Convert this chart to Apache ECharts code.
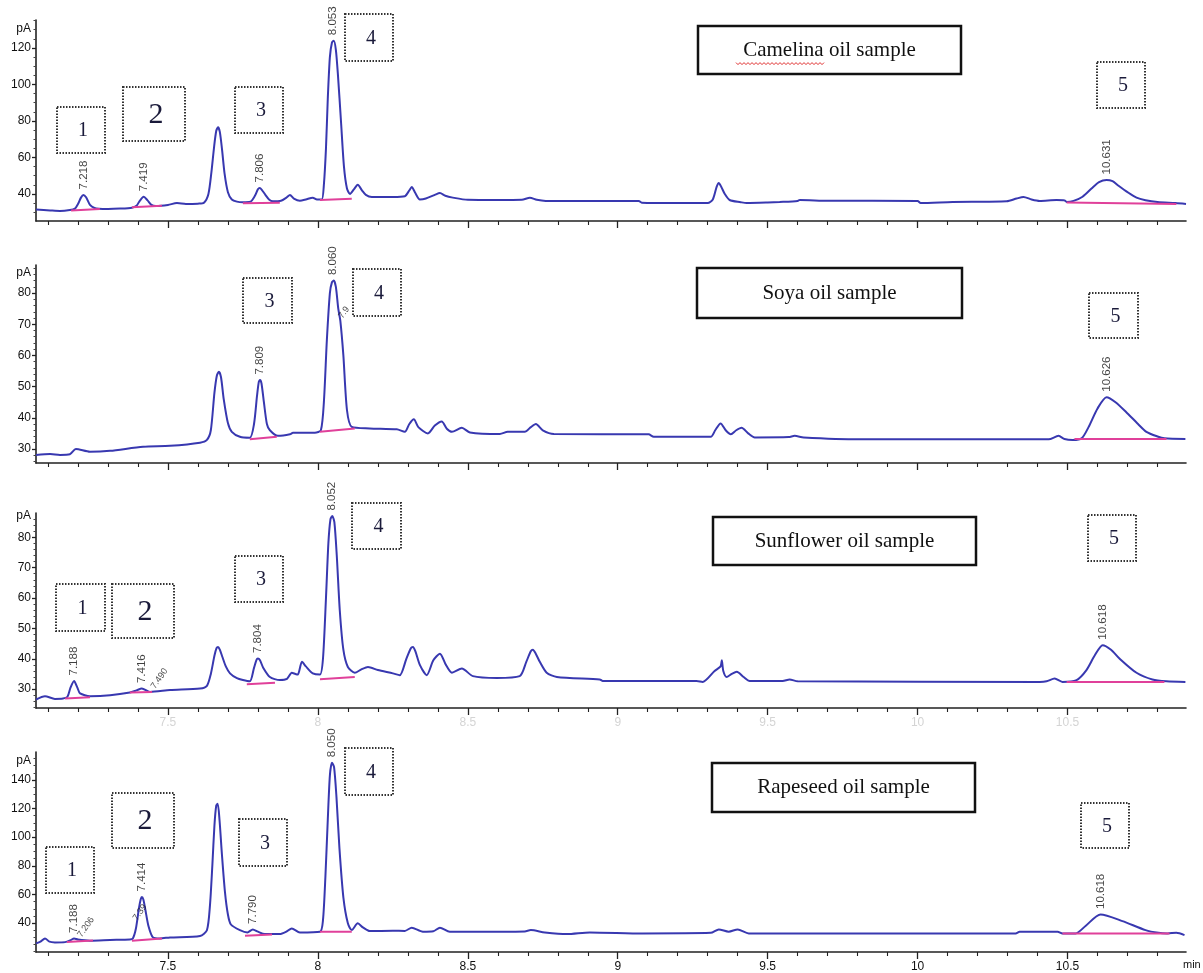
<!DOCTYPE html>
<html><head><meta charset="utf-8">
<script src="https://cdn.jsdelivr.net/npm/echarts@6/dist/echarts.min.js"></script>
<style>html,body{margin:0;padding:0;background:#fff}#c{width:1203px;height:973px}</style>
</head><body><div id="c"></div>
<script>
// ---------------- DATA ----------------
const sampleNames = ['Camelina oil sample', 'Soya oil sample', 'Sunflower oil sample', 'Rapeseed oil sample'];

const camelinaTrace = [[7.06,31.5],[7.107,31.0],[7.14,30.7],[7.173,31.2],[7.19,32.0],[7.2,34.5],[7.21,38.0],[7.218,39.5],[7.227,38.2],[7.24,34],[7.255,32.3],[7.27,31.9],[7.3,31.8],[7.34,32.0],[7.38,32.5],[7.395,33.5],[7.405,36],[7.419,38.5],[7.432,36.5],[7.445,34],[7.46,33.4],[7.5,34],[7.53,35],[7.56,34.5],[7.6,34.7],[7.62,35.2],[7.635,40],[7.645,52],[7.654,66],[7.661,74.5],[7.667,76.5],[7.673,74],[7.68,65],[7.689,51],[7.7,41],[7.713,37],[7.73,35.8],[7.75,35.5],[7.775,35.8],[7.79,39],[7.8,42.6],[7.806,43.3],[7.813,42.3],[7.825,39.5],[7.838,36.8],[7.85,36],[7.877,36.3],[7.895,38],[7.907,39.5],[7.92,37.5],[7.94,36.3],[7.96,37],[7.983,38],[7.997,37],[8.013,37],[8.02,45],[8.027,65],[8.033,92],[8.04,115],[8.047,123],[8.053,124],[8.06,119],[8.067,105],[8.077,80],[8.087,55],[8.097,43],[8.107,40],[8.12,42.5],[8.133,45],[8.147,42],[8.16,39.5],[8.18,38.4],[8.25,38.4],[8.29,38.8],[8.305,42],[8.313,43.8],[8.325,40.5],[8.34,37],[8.36,37.5],[8.39,39.5],[8.407,40.5],[8.425,39],[8.45,38],[8.5,36.8],[8.6,36.7],[8.68,36.8],[8.707,38],[8.73,36.8],[8.76,36.2],[9.07,36.2],[9.08,35.2],[9.2,35],[9.3,35],[9.317,37],[9.33,44],[9.337,46],[9.345,44],[9.357,40],[9.373,36.7],[9.41,35.5],[9.43,35],[9.5,35.3],[9.54,35.6],[9.6,36.2],[9.607,36.7],[9.7,36.3],[10.0,36.2],[10.01,35],[10.117,35.6],[10.297,36],[10.33,37.5],[10.353,38.4],[10.38,37],[10.407,36.2],[10.463,36.7],[10.49,36.5],[10.497,35.6],[10.52,36.2],[10.55,38.5],[10.58,43],[10.605,46.5],[10.63,47.7],[10.65,47],[10.67,44.5],[10.7,41],[10.73,38],[10.76,36.6],[10.8,35.6],[10.86,35],[10.895,34.5]];
const soyaTrace = [[7.06,28.1],[7.107,28.4],[7.14,28.1],[7.173,28.3],[7.193,30],[7.24,29.1],[7.307,29.4],[7.417,30.7],[7.507,31],[7.607,32],[7.63,32.9],[7.643,36],[7.655,48],[7.663,53.5],[7.67,54.8],[7.677,53],[7.686,46],[7.7,38.3],[7.713,35.5],[7.74,33.9],[7.773,33.6],[7.787,38],[7.797,47],[7.803,51.5],[7.807,52.1],[7.812,51],[7.82,45],[7.83,38],[7.84,36],[7.867,34.2],[7.907,34.7],[7.917,35.2],[7.99,35.2],[8.01,36],[8.02,45],[8.03,65],[8.04,80],[8.047,83.5],[8.053,84],[8.06,82],[8.068,75],[8.075,71],[8.085,60],[8.097,42.5],[8.113,37.1],[8.173,36.6],[8.263,36.3],[8.29,35.5],[8.305,38],[8.32,39.5],[8.335,37],[8.367,35],[8.39,37.5],[8.413,38.8],[8.43,36.5],[8.447,35.5],[8.48,36.8],[8.507,35.3],[8.607,34.8],[8.633,35.5],[8.69,35.5],[8.71,37],[8.727,38],[8.75,36],[8.787,34.8],[9.103,34.7],[9.12,33.9],[9.31,33.9],[9.325,36],[9.343,38.2],[9.36,36],[9.377,34.7],[9.395,36],[9.413,36.8],[9.435,35],[9.457,33.7],[9.57,33.8],[9.59,34.2],[9.62,33.7],[9.807,33.1],[10.437,33.1],[10.47,34.2],[10.49,33.2],[10.517,32.9],[10.547,33.4],[10.57,37],[10.6,43],[10.63,46.6],[10.66,45],[10.7,41.4],[10.735,38],[10.763,35.5],[10.8,34],[10.823,33.4],[10.893,33.2]];
const sunflowerTrace = [[7.06,26.6],[7.09,27.7],[7.123,26.8],[7.15,26.9],[7.165,27.5],[7.175,30.5],[7.187,32.7],[7.198,30.5],[7.207,28.6],[7.24,27.7],[7.307,28],[7.373,28.9],[7.395,29.6],[7.413,30.2],[7.44,29.1],[7.507,29.7],[7.607,30.2],[7.63,31.1],[7.643,35],[7.655,41],[7.662,43.5],[7.667,43.9],[7.673,43],[7.682,40.5],[7.693,37.5],[7.707,35.2],[7.73,33.6],[7.75,33],[7.773,32.6],[7.787,37],[7.795,39.6],[7.8,40.1],[7.807,39.5],[7.818,37],[7.84,34],[7.873,33],[7.897,33.4],[7.913,35.4],[7.925,35],[7.933,34.8],[7.947,39],[7.96,37.5],[7.983,35.2],[8.007,34.8],[8.017,40],[8.027,60],[8.035,78],[8.042,86],[8.048,87],[8.055,85],[8.063,74],[8.073,56],[8.085,43],[8.1,37.3],[8.123,35.4],[8.145,36.5],[8.167,37.3],[8.2,36.3],[8.25,35.2],[8.273,34.6],[8.295,40],[8.31,43.5],[8.317,43.9],[8.325,42.5],[8.34,38],[8.363,34.6],[8.385,39.5],[8.407,41.7],[8.427,38],[8.447,35.4],[8.48,36.8],[8.517,34.3],[8.597,33.7],[8.673,34.3],[8.695,39],[8.71,42.5],[8.717,43],[8.725,42],[8.74,39],[8.763,35.4],[8.797,34],[8.94,33.2],[8.95,32.7],[9.263,32.7],[9.283,32.4],[9.323,36],[9.343,37.5],[9.347,39.5],[9.352,36],[9.363,34],[9.38,35],[9.397,35.7],[9.42,34],[9.44,32.7],[9.55,32.7],[9.573,33.2],[9.6,32.6],[10.407,32.4],[10.43,32.6],[10.457,33.5],[10.483,32.4],[10.53,33],[10.563,36.3],[10.59,41],[10.617,44.5],[10.645,43],[10.673,40.1],[10.73,35.4],[10.783,33.2],[10.83,32.6],[10.893,32.4]];
const rapeseedTrace = [[7.06,25.8],[7.075,27],[7.09,29.3],[7.105,27],[7.123,26.5],[7.157,26.7],[7.175,28],[7.187,29.3],[7.2,28.5],[7.24,27.7],[7.307,28.2],[7.373,28.6],[7.383,29.3],[7.393,36],[7.403,50],[7.409,56.5],[7.413,58.3],[7.418,56.5],[7.425,49],[7.435,38],[7.45,30],[7.473,29.3],[7.507,30],[7.607,31],[7.63,35],[7.64,52],[7.648,80],[7.655,108],[7.661,122],[7.666,123.4],[7.672,112],[7.68,88],[7.69,62],[7.7,46],[7.71,39],[7.74,35.1],[7.765,33.5],[7.783,35.6],[7.8,34],[7.823,32.3],[7.873,32.3],[7.895,34],[7.913,36.3],[7.94,33.5],[8.007,34],[8.017,42],[8.025,72],[8.033,112],[8.04,143],[8.047,152],[8.054,149],[8.062,128],[8.072,92],[8.085,58],[8.1,39.8],[8.113,35.1],[8.133,39.8],[8.15,37],[8.173,34.4],[8.25,34.7],[8.29,34.5],[8.313,36.8],[8.35,34],[8.385,34.3],[8.407,36.8],[8.44,34],[8.607,34],[8.69,34.2],[8.71,35.1],[8.757,33.5],[8.83,32.3],[8.907,33.5],[9.083,32.8],[9.31,33.2],[9.337,35.6],[9.37,34],[9.4,35.6],[9.437,32.8],[10.327,32.8],[10.34,34],[10.467,34],[10.483,32.8],[10.527,32.8],[10.56,38],[10.61,46],[10.683,41.4],[10.76,35.1],[10.803,33.2],[10.833,32.8],[10.863,33.2],[10.89,31.6]];

// integration baselines (pink)
const camelinaBaselines = [[[7.177,31.0],[7.273,31.8]],[[7.38,32.7],[7.48,33.6]],[[7.75,34.9],[7.873,35.2]],[[8.007,36.7],[8.113,37.4]],[[10.497,35.4],[10.863,34.5]]];
const soyaBaselines = [[[7.773,33.1],[7.863,33.9]],[[8.007,35.5],[8.123,36.6]],[[10.523,33.2],[10.83,33.2]]];
const sunflowerBaselines = [[[7.157,26.9],[7.24,27.3]],[[7.373,28.9],[7.447,29.1]],[[7.763,31.6],[7.857,32.1]],[[8.007,33.3],[8.123,34.0]],[[10.497,32.4],[10.823,32.4]]];
const rapeseedBaselines = [[[7.163,26.8],[7.25,27.8]],[[7.38,27.7],[7.48,29.3]],[[7.757,31.2],[7.847,32.0]],[[8.007,34],[8.113,34]],[[10.483,32.8],[10.84,32.8]]];

// retention-time labels [time, apex value, text]
const camelinaPeakLabels = [[7.218,39.5,'7.218'],[7.419,38.5,'7.419'],[7.806,43.3,'7.806'],[8.05,124,'8.053'],[10.63,47.7,'10.631']];
const soyaPeakLabels = [[7.807,52.1,'7.809'],[8.05,84,'8.060'],[10.63,46.6,'10.626']];
const sunflowerPeakLabels = [[7.187,32.7,'7.188'],[7.413,30.2,'7.416'],[7.8,40.1,'7.804'],[8.047,87,'8.052'],[10.617,44.5,'10.618']];
const rapeseedPeakLabels = [[7.187,29.3,'7.188'],[7.413,58.3,'7.414'],[7.783,35.6,'7.790'],[8.047,152,'8.050'],[10.61,46,'10.618']];
const soyaSlantLabels = [[8.075,71,'7.9']];
const sunflowerSlantLabels = [[7.45,29.3,'7.490']];
const rapeseedSlantLabels = [[7.205,28.3,'7.206'],[7.39,40,'7.39']];

// axes
const xRange = [7.06, 10.895];
const xMajorTicks = [7.5, 8, 8.5, 9, 9.5, 10, 10.5];
const xMinorTicks = [7.1,7.2,7.3,7.4,7.6,7.7,7.8,7.9,8.1,8.2,8.3,8.4,8.6,8.7,8.8,8.9,9.1,9.2,9.3,9.4,9.6,9.7,9.8,9.9,10.1,10.2,10.3,10.4,10.6,10.7,10.8];
const camelinaYTicks = [40, 60, 80, 100, 120];
const soyaYTicks = [30, 40, 50, 60, 70, 80];
const sunflowerYTicks = [30, 40, 50, 60, 70, 80];
const rapeseedYTicks = [40, 60, 80, 100, 120, 140];
const camelinaYMinor = [30,35,45,50,55,65,70,75,85,90,95,105,110,115,125,130,135];
const soyaYMinor = [26,28,32,34,36,38,42,44,46,48,52,54,56,58,62,64,66,68,72,74,76,78,82,84,86,88];
const sunflowerYMinor = [24,26,28,32,34,36,38,42,44,46,48,52,54,56,58,62,64,66,68,72,74,76,78,82,84,86];
const rapeseedYMinor = [20,25,30,35,45,50,55,65,70,75,85,90,95,105,110,115,125,130,135,145,150,155];

// ---------------- LAYOUT ----------------
const panels = [
  {trace: camelinaTrace, base: camelinaBaselines, labels: camelinaPeakLabels, slant: [], yTicks: camelinaYTicks, yMinor: camelinaYMinor},
  {trace: soyaTrace, base: soyaBaselines, labels: soyaPeakLabels, slant: soyaSlantLabels, yTicks: soyaYTicks, yMinor: soyaYMinor},
  {trace: sunflowerTrace, base: sunflowerBaselines, labels: sunflowerPeakLabels, slant: sunflowerSlantLabels, yTicks: sunflowerYTicks, yMinor: sunflowerYMinor},
  {trace: rapeseedTrace, base: rapeseedBaselines, labels: rapeseedPeakLabels, slant: rapeseedSlantLabels, yTicks: rapeseedYTicks, yMinor: rapeseedYMinor}
];
const layout = [
  {top: 20, height: 201, yMin: 25.2, yMax: 135.3, pA: 130.4, xLabel: null},
  {top: 265, height: 198, yMin: 25.5, yMax: 89, pA: 86.4, xLabel: null},
  {top: 513, height: 195, yMin: 23.8, yMax: 88, pA: 87.2, xLabel: '#d4d4d4'},
  {top: 752, height: 200, yMin: 19.8, yMax: 159.5, pA: 153.6, xLabel: '#111'}
];
const titleBoxes = [
  {x: 698, y: 26, w: 263, h: 48}, {x: 697, y: 268, w: 265, h: 50},
  {x: 713, y: 517, w: 263, h: 48}, {x: 712, y: 763, w: 263, h: 49}
];
const numberBoxes = [
  {x:57,y:107,w:48,h:46,t:'1',fs:20},{x:123,y:87,w:62,h:54,t:'2',fs:30},{x:235,y:87,w:48,h:46,t:'3',fs:20},{x:345,y:14,w:48,h:47,t:'4',fs:20},{x:1097,y:62,w:48,h:46,t:'5',fs:20},
  {x:243,y:278,w:49,h:45,t:'3',fs:20},{x:353,y:269,w:48,h:47,t:'4',fs:20},{x:1089,y:293,w:49,h:45,t:'5',fs:20},
  {x:56,y:584,w:49,h:47,t:'1',fs:20},{x:112,y:584,w:62,h:54,t:'2',fs:30},{x:235,y:556,w:48,h:46,t:'3',fs:20},{x:352,y:503,w:49,h:46,t:'4',fs:20},{x:1088,y:515,w:48,h:46,t:'5',fs:20},
  {x:46,y:847,w:48,h:46,t:'1',fs:20},{x:112,y:793,w:62,h:55,t:'2',fs:30},{x:239,y:819,w:48,h:47,t:'3',fs:20},{x:345,y:748,w:48,h:47,t:'4',fs:20},{x:1081,y:803,w:48,h:45,t:'5',fs:20}
];

const AX = '#222';
const TRACE = '#3838b0';
const BASE = '#e0409a';
const SANS = '"Liberation Sans", Arial, sans-serif';
const SERIF = '"Liberation Serif", "Times New Roman", serif';

const grids = [], xAxes = [], yAxes = [], series = [];
panels.forEach((p, i) => {
  const L = layout[i];
  grids.push({left: 36, right: 17, top: L.top, height: L.height});
  xAxes.push({
    type: 'value', gridIndex: i, min: xRange[0], max: xRange[1], position: 'bottom',
    axisLine: {show: true, onZero: false, lineStyle: {color: AX, width: 1.6}},
    axisTick: {show: true, customValues: xMajorTicks, length: 7, lineStyle: {color: AX, width: 1.3}},
    axisLabel: {show: !!L.xLabel, customValues: xMajorTicks, color: L.xLabel || AX, fontSize: 12, fontFamily: SANS, margin: 9},
    splitLine: {show: false},
    name: i === 3 ? 'min' : '', nameLocation: 'end', nameGap: -3,
    nameTextStyle: {color: '#111', fontSize: 11, fontFamily: SANS, align: 'left', verticalAlign: 'top', padding: [7, 0, 0, 0]}
  });
  xAxes.push({
    type: 'value', gridIndex: i, min: xRange[0], max: xRange[1], position: 'bottom',
    axisLine: {show: false, onZero: false},
    axisTick: {show: true, customValues: xMinorTicks, length: 4, lineStyle: {color: AX, width: 1.1}},
    axisLabel: {show: false}, splitLine: {show: false}
  });
  const pA = L.pA;
  yAxes.push({
    type: 'value', gridIndex: i, min: L.yMin, max: L.yMax, position: 'left',
    axisLine: {show: true, onZero: false, lineStyle: {color: AX, width: 1.6}},
    axisTick: {show: true, customValues: p.yTicks, length: 4, lineStyle: {color: AX, width: 1.3}},
    axisLabel: {show: true, customValues: p.yTicks.concat([pA]), color: '#111', fontSize: 12, fontFamily: SANS, margin: 5,
      formatter: v => (Math.abs(v - pA) < 1e-6 ? 'pA' : String(v))},
    splitLine: {show: false}
  });
  yAxes.push({
    type: 'value', gridIndex: i, min: L.yMin, max: L.yMax, position: 'left',
    axisLine: {show: false, onZero: false},
    axisTick: {show: true, customValues: p.yMinor, length: 2.5, lineStyle: {color: '#444', width: 1}},
    axisLabel: {show: false}, splitLine: {show: false}
  });
  const xi = 2 * i, yi = 2 * i;
  series.push({type: 'line', xAxisIndex: xi, yAxisIndex: yi, data: p.trace, showSymbol: false, smooth: 0.25,
    lineStyle: {color: TRACE, width: 2}, z: 3, silent: true});
  p.base.forEach(seg => series.push({type: 'line', xAxisIndex: xi, yAxisIndex: yi, data: seg, showSymbol: false,
    lineStyle: {color: BASE, width: 2}, z: 4, silent: true}));
  series.push({type: 'scatter', xAxisIndex: xi, yAxisIndex: yi, data: p.labels, symbolSize: 1,
    itemStyle: {color: 'rgba(0,0,0,0)'}, z: 5, silent: true,
    label: {show: true, formatter: q => q.value[2], position: 'top', distance: 5, rotate: 90, align: 'left',
      verticalAlign: 'middle', color: '#111', fontSize: 11.5, fontFamily: SANS}});
  if (p.slant.length) series.push({type: 'scatter', xAxisIndex: xi, yAxisIndex: yi, data: p.slant, symbolSize: 1,
    itemStyle: {color: 'rgba(0,0,0,0)'}, z: 5, silent: true,
    label: {show: true, formatter: q => q.value[2], position: 'top', distance: 3, rotate: 55, align: 'left',
      verticalAlign: 'middle', color: '#222', fontSize: 9, fontFamily: SANS}});
});

const graphic = [];
titleBoxes.forEach((b, i) => {
  graphic.push({type: 'rect', shape: {x: b.x, y: b.y, width: b.w, height: b.h}, z: 10,
    style: {fill: '#fff', stroke: '#111', lineWidth: 2.5}});
  graphic.push({type: 'text', x: b.x + b.w / 2, y: b.y + b.h / 2, z: 11,
    style: {text: sampleNames[i], fill: '#111', font: '21px ' + SERIF, textAlign: 'center', textVerticalAlign: 'middle'}});
});
// red spell-check squiggle under "Camelina"
(function () {
  const pts = [];
  for (let k = 0; k <= 44; k++) pts.push([736 + k * 2, 63 + (k % 2 ? 1.6 : -0.4)]);
  graphic.push({type: 'polyline', shape: {points: pts}, z: 12, style: {stroke: '#e03030', lineWidth: 1, fill: null}});
})();
numberBoxes.forEach(b => {
  graphic.push({type: 'rect', shape: {x: b.x, y: b.y, width: b.w, height: b.h}, z: 10,
    style: {fill: null, stroke: '#333', lineWidth: 2, lineDash: [1.5, 1.5]}});
  graphic.push({type: 'text', x: b.x + b.w / 2 + 2, y: b.y + b.h / 2 + 1, z: 11,
    style: {text: b.t, fill: '#1a1a3a', font: b.fs + 'px ' + SERIF, textAlign: 'center', textVerticalAlign: 'middle'}});
});

const chart = echarts.init(document.getElementById('c'), null, {renderer: 'canvas'});
chart.setOption({
  animation: false,
  backgroundColor: '#fff',
  grid: grids, xAxis: xAxes, yAxis: yAxes, series: series, graphic: graphic
});
</script>
</body></html>
